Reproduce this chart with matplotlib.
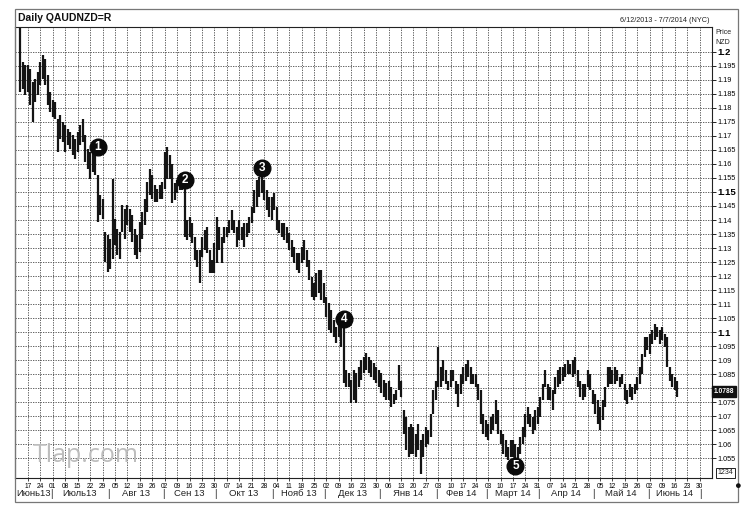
import numpy as np
import pandas as pd
import matplotlib
matplotlib.use('Agg')
import matplotlib.pyplot as plt
from matplotlib.patches import Rectangle
from matplotlib.transforms import blended_transform_factory

plt.rcParams['font.family'] = ['Liberation Sans', 'DejaVu Sans']

# Daily AUD/NZD bars, 2013-06-12 .. 2014-06-17 (one row = one week)
high = [
    1.2085, 1.1965, 1.1952,                              # Jun 12-14
    1.1952, 1.1940, 1.1893, 1.1905, 1.1929,              # Jun 17
    1.1964, 1.1988, 1.1976, 1.1917, 1.1857,              # Jun 24
    1.1827, 1.1821, 1.1762, 1.1774, 1.1750,              # Jul 1
    1.1738, 1.1726, 1.1714, 1.1702, 1.1690,              # Jul 8
    1.1714, 1.1738, 1.1762, 1.1702, 1.1655,              # Jul 15
    1.1643, 1.1655, 1.1631, 1.1560, 1.1488,              # Jul 22
    1.1476, 1.1357, 1.1345, 1.1333, 1.1548,              # Jul 29
    1.1405, 1.1369, 1.1357, 1.1452, 1.1440,              # Aug 5
    1.1452, 1.1440, 1.1417, 1.1369, 1.1345,              # Aug 12
    1.1393, 1.1429, 1.1476, 1.1536, 1.1583,              # Aug 19
    1.1560, 1.1524, 1.1512, 1.1524, 1.1536,              # Aug 26
    1.1643, 1.1662, 1.1631, 1.1600, 1.1531,              # Sep 2
    1.1543, 1.1555, 1.1567, 1.1530, 1.1400,              # Sep 9
    1.1412, 1.1388, 1.1341, 1.1293, 1.1293,              # Sep 16
    1.1341, 1.1364, 1.1376, 1.1293, 1.1257,              # Sep 23
    1.1317, 1.1412, 1.1376, 1.1341, 1.1376,              # Sep 30
    1.1376, 1.1400, 1.1436, 1.1400, 1.1376,              # Oct 7
    1.1400, 1.1376, 1.1388, 1.1388, 1.1412,              # Oct 14
    1.1448, 1.1507, 1.1543, 1.1555, 1.1565,              # Oct 21
    1.1543, 1.1507, 1.1483, 1.1483, 1.1495,              # Oct 28
    1.1448, 1.1400, 1.1388, 1.1388, 1.1376,              # Nov 4
    1.1352, 1.1329, 1.1305, 1.1281, 1.1281,              # Nov 11
    1.1305, 1.1329, 1.1293, 1.1257, 1.1198,              # Nov 18
    1.1174, 1.1210, 1.1222, 1.1222, 1.1174,              # Nov 25
    1.1126, 1.1103, 1.1079, 1.1043, 1.1019,              # Dec 2
    1.1043, 1.1031, 1.1019, 1.0864, 1.0853,              # Dec 9
    1.0829, 1.0864, 1.0853, 1.0876, 1.0900,              # Dec 16
    1.0912, 1.0924, 1.0912, 1.0900, 1.0888,              # Dec 23
    1.0876, 1.0864, 1.0853, 1.0829, 1.0817,              # Dec 30
    1.0827, 1.0804, 1.0780, 1.0792, 1.0881,              # Jan 6
    1.0827, 1.0720, 1.0697, 1.0661, 1.0673,              # Jan 13
    1.0661, 1.0637, 1.0673, 1.0613, 1.0637,              # Jan 20
    1.0661, 1.0649, 1.0708, 1.0792, 1.0827,              # Jan 27
    1.0946, 1.0875, 1.0899, 1.0863, 1.0827,              # Feb 3
    1.0863, 1.0863, 1.0827, 1.0815, 1.0851,              # Feb 10
    1.0875, 1.0887, 1.0899, 1.0875, 1.0851,              # Feb 17
    1.0851, 1.0815, 1.0792, 1.0708, 1.0685,              # Feb 24
    1.0673, 1.0697, 1.0708, 1.0756, 1.0720,              # Mar 3
    1.0649, 1.0637, 1.0613, 1.0589, 1.0613,              # Mar 10
    1.0613, 1.0601, 1.0589, 1.0625, 1.0661,              # Mar 17
    1.0708, 1.0732, 1.0708, 1.0697, 1.0720,              # Mar 24
    1.0732, 1.0768, 1.0815, 1.0863, 1.0815,              # Mar 31
    1.0804, 1.0792, 1.0839, 1.0863, 1.0875,              # Apr 7
    1.0875, 1.0887, 1.0899, 1.0887, 1.0899,              # Apr 14
    1.0911, 1.0863, 1.0827, 1.0815, 1.0815,              # Apr 21
    1.0863, 1.0851, 1.0792, 1.0780, 1.0756,              # Apr 28
    1.0732, 1.0756, 1.0804, 1.0875, 1.0875,              # May 5
    1.0863, 1.0875, 1.0863, 1.0839, 1.0851,              # May 12
    1.0815, 1.0792, 1.0815, 1.0804, 1.0815,              # May 19
    1.0839, 1.0875, 1.0923, 1.0982, 1.0982,              # May 26
    1.0994, 1.1006, 1.1030, 1.1018, 1.1006,              # Jun 2
    1.1018, 1.0994, 1.0982, 1.0875, 1.0851,              # Jun 9
    1.0839, 1.0827,                                      # Jun 16
]
low = [
    1.1857, 1.1869, 1.1845,
    1.1857, 1.1810, 1.1750, 1.1821, 1.1845,
    1.1881, 1.1905, 1.1881, 1.1810, 1.1786,
    1.1768, 1.1762, 1.1643, 1.1690, 1.1679,
    1.1643, 1.1667, 1.1655, 1.1631, 1.1619,
    1.1643, 1.1667, 1.1679, 1.1607, 1.1583,
    1.1548, 1.1571, 1.1560, 1.1393, 1.1417,
    1.1405, 1.1250, 1.1214, 1.1226, 1.1262,
    1.1310, 1.1274, 1.1262, 1.1357, 1.1333,
    1.1381, 1.1357, 1.1321, 1.1274, 1.1262,
    1.1286, 1.1333, 1.1381, 1.1429, 1.1488,
    1.1476, 1.1464, 1.1464, 1.1476, 1.1476,
    1.1512, 1.1548, 1.1548, 1.1460, 1.1471,
    1.1495, 1.1507, 1.1507, 1.1340, 1.1329,
    1.1341, 1.1317, 1.1257, 1.1233, 1.1174,
    1.1269, 1.1293, 1.1281, 1.1210, 1.1210,
    1.1210, 1.1245, 1.1293, 1.1245, 1.1317,
    1.1341, 1.1352, 1.1364, 1.1352, 1.1305,
    1.1329, 1.1329, 1.1305, 1.1341, 1.1352,
    1.1388, 1.1424, 1.1448, 1.1483, 1.1495,
    1.1471, 1.1436, 1.1412, 1.1400, 1.1436,
    1.1364, 1.1352, 1.1341, 1.1329, 1.1317,
    1.1293, 1.1269, 1.1245, 1.1222, 1.1210,
    1.1245, 1.1257, 1.1233, 1.1186, 1.1126,
    1.1114, 1.1126, 1.1138, 1.1114, 1.1103,
    1.1055, 1.1007, 1.0995, 1.0984, 1.0960,
    1.0984, 1.0948, 1.0817, 1.0805, 1.0805,
    1.0745, 1.0757, 1.0745, 1.0805, 1.0829,
    1.0853, 1.0864, 1.0853, 1.0841, 1.0829,
    1.0817, 1.0805, 1.0781, 1.0769, 1.0757,
    1.0756, 1.0732, 1.0744, 1.0756, 1.0792,
    1.0768, 1.0637, 1.0578, 1.0554, 1.0566,
    1.0566, 1.0554, 1.0578, 1.0494, 1.0554,
    1.0589, 1.0601, 1.0625, 1.0708, 1.0756,
    1.0804, 1.0804, 1.0827, 1.0815, 1.0792,
    1.0804, 1.0827, 1.0780, 1.0732, 1.0780,
    1.0815, 1.0827, 1.0839, 1.0815, 1.0815,
    1.0804, 1.0756, 1.0673, 1.0637, 1.0625,
    1.0613, 1.0637, 1.0649, 1.0673, 1.0637,
    1.0601, 1.0566, 1.0554, 1.0542, 1.0554,
    1.0554, 1.0542, 1.0530, 1.0566, 1.0601,
    1.0625, 1.0673, 1.0661, 1.0637, 1.0649,
    1.0673, 1.0697, 1.0756, 1.0804, 1.0756,
    1.0756, 1.0720, 1.0780, 1.0804, 1.0815,
    1.0827, 1.0839, 1.0851, 1.0851, 1.0839,
    1.0851, 1.0804, 1.0768, 1.0756, 1.0768,
    1.0804, 1.0792, 1.0744, 1.0708, 1.0673,
    1.0649, 1.0685, 1.0732, 1.0804, 1.0815,
    1.0815, 1.0815, 1.0827, 1.0804, 1.0815,
    1.0756, 1.0744, 1.0768, 1.0756, 1.0780,
    1.0792, 1.0815, 1.0851, 1.0911, 1.0935,
    1.0923, 1.0958, 1.0970, 1.0982, 1.0958,
    1.0970, 1.0946, 1.0875, 1.0827, 1.0804,
    1.0792, 1.0768,
]
last_price = 1.0788

# day-of-month of every Monday on the time axis
week_labels = ['17', '24', '01', '08', '15', '22', '29', '05', '12', '19', '26',
               '02', '09', '16', '23', '30', '07', '14', '21', '28', '04', '11',
               '18', '25', '02', '09', '16', '23', '30', '06', '13', '20', '27',
               '03', '10', '17', '24', '03', '10', '17', '24', '31', '07', '14',
               '21', '28', '05', '12', '19', '26', '02', '09', '16', '23', '30']
month_labels = ['Июнь13', 'Июль13', 'Авг 13', 'Сен 13', 'Окт 13', 'Нояб 13', 'Дек 13',
                'Янв 14', 'Фев 14', 'Март 14', 'Апр 14', 'Май 14', 'Июнь 14']

# numbered markers: (label, date, price)
markers = [('1', '2013-07-25', 1.1661), ('2', '2013-09-12', 1.1543),
           ('3', '2013-10-25', 1.1586), ('4', '2013-12-11', 1.1047),
           ('5', '2014-03-18', 1.0522)]

# trading-day axis (no weekends)
axis_days = pd.bdate_range('2013-06-12', '2014-07-07')
pos = {d: i for i, d in enumerate(axis_days)}
x = np.arange(len(high))
mondays = [i for i, d in enumerate(axis_days) if d.weekday() == 0]
month_starts = [i for i in range(1, len(axis_days)) if axis_days[i].month != axis_days[i - 1].month]

W, H = 755, 512
fig = plt.figure(figsize=(W / 100, H / 100), dpi=100)
ax = fig.add_axes([15 / W, 1 - 478 / H, (712 - 15) / W, (478 - 27) / H])

ax.vlines(x, low, high, color='#141414', lw=1.6, zorder=3)

ax.set_xlim(-2.2, len(axis_days) - 1)
ax.set_ylim(1.0479, 1.2089)

yt = np.round(np.arange(1.055, 1.2001, 0.005), 3)
ax.set_yticks(yt)
ax.yaxis.tick_right()
# the 1.08 label sits under the last-price box, as on the original chart
ax.set_yticklabels(['' if abs(v - 1.08) < 1e-9 else ('%.3f' % v).rstrip('0').rstrip('.')
                    for v in yt])
ax.tick_params(axis='y', labelsize=5.2, length=3, width=0.6, pad=1, direction='out')
for lab, v in zip(ax.get_yticklabels(), yt):
    if round(v * 1000) % 50 == 0:
        lab.set_fontsize(6.8)
        lab.set_fontweight('bold')

ax.set_xticks(mondays[:len(week_labels)])
ax.set_xticklabels(week_labels)
ax.tick_params(axis='x', labelsize=4.8, length=2, width=0.5, pad=1.5, direction='out')

ax.grid(True, color='#4a4a4a', lw=0.6, linestyle=(0, (1.6, 1.4)))
for s in ax.spines.values():
    s.set_linewidth(0.8)
    s.set_color('#222222')

# month names with separators under the day numbers
tr = blended_transform_factory(ax.transData, ax.transAxes)
month_y = -(494 - 478) / (478 - 27)
edges = [-1.5] + [m - 0.7 for m in month_starts]
for i, name in enumerate(month_labels):
    left = edges[i]
    right = edges[i + 1] if i + 1 < len(edges) else left + 21
    ax.text((left + right) / 2, month_y, name, transform=tr, ha='center', va='center',
            fontsize=6.8, color='#222222', clip_on=False)
for e in edges[1:]:
    ax.text(e, month_y, '|', transform=tr, ha='center', va='center', fontsize=7,
            color='#222222', clip_on=False)

# numbered circles
for lab, d, p in markers:
    xi = pos[pd.Timestamp(d)]
    ax.plot(xi, p, 'o', ms=12, color='#0a0a0a', zorder=5)
    ax.text(xi, p, lab, color='white', ha='center', va='center', fontsize=8.5,
            fontweight='bold', zorder=6)

# last price box on the price axis
ax.annotate('%.4f' % last_price, xy=(1.003, last_price), xycoords=('axes fraction', 'data'),
            ha='left', va='center', fontsize=4.8, color='white', fontweight='bold',
            bbox=dict(boxstyle='square,pad=0.25', fc='#111111', ec='#111111'),
            annotation_clip=False, zorder=10)
ax.annotate('1234', xy=(1.008, 1.0497), xycoords=('axes fraction', 'data'),
            ha='left', va='center', fontsize=5, color='#222222',
            bbox=dict(boxstyle='square,pad=0.2', fc='white', ec='#222222', lw=0.7),
            annotation_clip=False, zorder=10)

# header and frame
fig.text(18 / W, 1 - 18 / H, 'Daily QAUDNZD=R', fontsize=7.5, fontweight='bold',
         va='center', ha='left', color='#111111')
fig.text(710 / W, 1 - 20 / H, '6/12/2013 - 7/7/2014 (NYC)', fontsize=5.2,
         va='center', ha='right', color='#222222')
fig.text(715 / W, 1 - 32 / H, 'Price', fontsize=5, va='center', ha='left', color='#222222')
fig.text(715 / W, 1 - 42 / H, 'NZD', fontsize=5, va='center', ha='left', color='#222222')
fig.text(737 / W, 1 - 486 / H, '●', fontsize=8, va='center', ha='center', color='#111111')
fig.text(33 / W, 1 - 456 / H, 'Tlap.com', fontsize=18, va='center', ha='left',
         color='#bdbdbd', family=['Open Sans', 'DejaVu Sans'])
fig.add_artist(Rectangle((15 / W, 1 - 502 / H), (738 - 15) / W, (502 - 9) / H,
                         transform=fig.transFigure, fill=False, ec='#777777', lw=0.9))

fig.savefig('out.png', dpi=100, facecolor='white')
